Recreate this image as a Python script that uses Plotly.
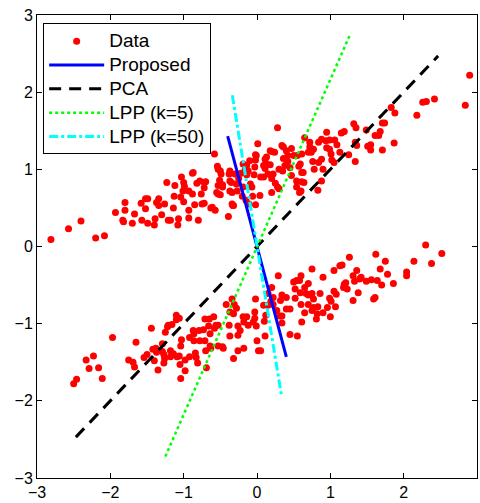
import plotly.graph_objects as go

# ---- data: upper cluster ----
upper_x = [-2.81, -2.57, -2.40, -2.20, -2.08, -1.93, -1.80, -1.80, -1.83, -1.82, -1.67, -1.70, -1.58, -1.52,
           -1.49, -1.52, -1.57, -1.49, -1.40, -1.39, -1.37, -1.34, -1.34, -1.26, -1.30, -1.23, -1.21, -1.18,
           -1.13, -1.12, -1.14, -1.08, -1.07, -1.04, -1.01, -1.00, -1.00, -1.03, -0.99, -0.93, -0.93, -0.93,
           -0.88, -0.88, -0.85, -0.82, -0.80, -0.78, -0.76, -0.72, -0.72, -0.70, -0.72, -0.75, -0.63, -0.61,
           -0.57, -0.58, -0.54, -0.53, -0.55, -0.50, -0.50, -0.47, -0.47, -0.39, -0.38, -0.37, -0.34, -0.34,
           -0.33, -0.30, -0.28, -0.27, -0.87, -0.53, -0.49, -0.51, -0.37, -0.35, -0.37, -0.53, -0.32, -0.19,
           -0.10, -0.01, 0.01, 0.13, 0.18, -0.19, 0.28, -0.02, -0.02, -0.14, -0.16, -0.03, 0.09, 0.13, 0.18,
           0.11, 0.15, 0.09, 0.05, 0.22, 0.20, 0.25, 0.28, 0.30, 0.20, 0.04, -0.07, -0.09, -0.06, -0.02,
           -0.11, -0.14, -0.04, 0.11, 0.20, 0.24, 0.34, 0.36, 0.40, 0.47, 0.42, 0.36, 0.42, 0.50, 0.55,
           0.61, 0.59, 0.57, 0.61, 0.63, 0.54, 0.61, 0.64, 0.54, 0.60, 0.58, 0.65, 0.72, 0.72, 0.70, 0.74,
           0.77, 0.84, 0.88, 0.95, 0.94, 0.95, 0.99, 1.06, 0.99, 1.01, 1.09, 1.13, 1.02, 1.05, 0.84, 0.88,
           0.90, 0.88, 0.83, 0.78, 0.76, 1.15, 1.19, 1.32, 1.35, 1.49, 1.34, 1.36, 1.25, 1.34, 1.51, 1.55,
           1.55, 1.61, 1.66, 1.68, 1.71, 1.74, 1.71, 1.83, 1.88, 1.87, 2.18, 2.26, 2.31, 2.42, 2.84, 2.90,
           -0.22, -0.25, -0.12, -0.20, -0.15, 0.30, 0.35, 0.38, 0.45, 0.47]
upper_y = [0.09, 0.23, 0.33, 0.11, 0.14, 0.44, 0.57, 0.47, 0.34, 0.32, 0.42, 0.30, 0.56, 0.62,
           0.62, 0.49, 0.34, 0.30, 0.28, 0.36, 0.57, 0.62, 0.53, 0.55, 0.41, 0.83, 0.34, 0.34,
           0.65, 0.79, 0.50, 0.28, 0.36, 0.64, 0.72, 0.83, 0.58, 0.90, 0.78, 0.72, 0.47, 0.37,
           0.95, 0.68, 0.54, 0.82, 0.34, 0.85, 0.68, 0.83, 0.76, 0.84, 0.56, 0.55, 0.50, 0.51,
           0.47, 1.20, 1.04, 0.79, 0.70, 0.98, 0.67, 0.77, 0.80, 0.39, 0.94, 0.85, 0.70, 0.55,
           0.53, 0.94, 0.81, 0.72, 0.96, 1.00, 0.94, 0.86, 0.98, 0.83, 0.72, 0.68, 0.53, 1.07,
           1.11, 1.18, 1.33, 1.16, 1.24, 0.77, 1.54, 1.19, 1.12, 1.05, 1.00, 1.03, 1.05, 1.07, 1.06,
           1.01, 0.94, 0.90, 0.90, 0.94, 0.88, 0.82, 0.77, 0.75, 0.70, 0.66, 0.77, 0.81, 0.65, 0.54,
           0.55, 0.93, 0.93, 1.13, 1.23, 1.22, 1.31, 1.29, 1.24, 1.27, 1.18, 1.14, 1.10, 1.18, 1.18,
           1.20, 1.07, 1.04, 0.96, 0.96, 0.85, 0.84, 0.83, 0.77, 0.72, 0.70, 1.41, 1.35, 1.29, 1.22, 1.22,
           1.26, 1.35, 1.39, 1.48, 1.37, 1.28, 1.38, 1.38, 1.26, 1.20, 1.32, 1.22, 1.12, 1.09, 1.09, 1.13,
           1.00, 0.85, 0.73, 1.00, 1.10, 1.47, 1.49, 1.59, 1.54, 1.51, 1.35, 1.31, 1.19, 1.10, 1.30, 1.32,
           1.25, 1.44, 1.44, 1.49, 1.60, 1.60, 1.25, 1.80, 1.73, 1.34, 1.70, 1.87, 1.88, 1.91, 1.83, 2.22,
           0.95, 0.88, 0.98, 0.65, 0.60, 1.00, 0.98, 1.05, 1.02, 0.92]

# ---- data: lower cluster ----
lower_x = [-2.50, -2.46, -2.33, -2.29, -2.23, -2.16, -2.11, -1.97, -1.75, -1.69, -1.67, -1.65, -1.54, -1.50,
           -1.44, -1.42, -1.40, -1.38, -1.37, -1.35, -1.29, -1.29, -1.27, -1.27, -1.26, -1.25, -1.22, -1.16,
           -1.18, -1.18, -1.14, -1.10, -1.06, -1.09, -1.06, -1.04, -1.03, -1.04, -1.05, -0.98, -0.98, -0.92,
           -0.92, -0.87, -0.86, -0.86, -0.84, -0.83, -0.81, -0.79, -0.78, -0.73, -0.71, -0.71, -0.69, -0.70,
           -0.65, -0.64, -0.64, -0.66, -0.63, -0.59, -0.58, -0.56, -0.53, -0.47, -0.46, -0.53, -0.42, -0.37,
           -0.38, -0.37, -0.32, -0.34, -0.31, -0.28, -0.26, -0.26, -0.26, -0.23, -0.18, -0.18, -0.14, -0.12,
           -0.05, -0.03, -0.03, -0.02, -0.01, 0.00, 0.05, 0.09, 0.10, 0.11, 0.12, 0.15, 0.20, 0.19, 0.22,
           0.27, 0.29, 0.31, 0.34, 0.32, 0.34, 0.40, 0.40, 0.34, 0.45, 0.45, 0.50, 0.52, 0.55, 0.58, 0.59,
           0.60, 0.60, 0.61, 0.65, 0.67, 0.65, 0.70, 0.70, 0.70, 0.75, 0.75, 0.77, 0.77, 0.81, 0.82, 0.83,
           0.86, 0.90, 0.90, 0.96, 0.99, 1.00, 1.01, 1.05, 1.05, 1.07, 1.08, 1.13, 1.16, 1.18, 1.19, 1.21,
           1.23, 1.26, 1.31, 1.31, 1.33, 1.36, 1.38, 1.40, 1.42, 1.49, 1.56, 1.59, 1.61, 1.62, 1.64, 1.68,
           1.70, 1.75, 1.78, 1.86, 2.04, 2.04, 2.14, 2.30, 2.38, 2.52,
           -0.32, -0.19, 0.15, 0.22, 0.02, 0.75, 0.54, 0.52, -1.21, -1.10]
lower_y = [-1.78, -1.72, -1.47, -1.58, -1.42, -1.57, -1.71, -1.18, -1.47, -1.50, -1.56, -1.24, -1.44, -1.40,
           -1.06, -1.33, -1.48, -1.32, -1.37, -1.60, -1.26, -1.36, -1.40, -1.51, -1.45, -1.11, -1.04, -1.01,
           -1.35, -1.43, -1.39, -0.89, -0.93, -1.43, -1.42, -1.29, -1.21, -1.71, -1.53, -1.61, -1.47, -1.18,
           -1.43, -1.09, -1.13, -1.22, -1.38, -1.44, -1.51, -1.09, -1.22, -1.08, -0.94, -1.22, -1.57, -1.35,
           -0.94, -1.13, -1.29, -1.03, -1.32, -0.91, -1.06, -1.02, -1.02, -1.30, -1.32, -1.29, -0.75, -0.85,
           -1.02, -1.16, -1.45, -0.68, -0.75, -0.80, -1.35, -1.03, -1.15, -1.09, -1.32, -0.98, -0.91, -1.02,
           -0.98, -0.93, -0.85, -0.68, -1.03, -1.22, -1.35, -0.76, -0.97, -1.16, -0.89, -0.61, -0.53, -0.71, -0.75,
           -0.83, -0.38, -0.90, -0.90, -0.70, -0.63, -0.66, -0.81, -0.99, -1.14, -0.81, -0.46, -0.67, -1.16, -0.44, -0.60,
           -0.38, -0.75, -0.98, -0.53, -0.61, -0.86, -0.48, -0.63, -0.75, -0.61, -0.83, -0.68, -0.79, -0.94, -0.87, -0.78,
           -0.61, -0.40, -0.86, -0.79, -0.67, -0.91, -0.71, -0.58, -0.31, -0.78, -0.62, -0.25, -0.24, -0.53, -0.49, -0.47,
           -0.55, -0.14, -0.70, -0.38, -0.45, -0.31, -0.60, -0.42, -0.40, -0.45, -0.43, -0.68, -0.66, -0.10, -0.44, -0.29,
           -0.50, -0.19, -0.36, -0.48, -0.33, -0.38, -0.19, 0.02, -0.22, -0.09,
           -0.87, -0.91, -0.76, -0.66, -1.35, -0.29, -0.44, -0.55, -1.02, -0.95]

# ---- projection directions (line endpoints) ----
proposed_x = [-0.40, 0.40]
proposed_y = [1.43, -1.43]
pca_x = [-2.47, 2.47]
pca_y = [-2.47, 2.47]
lpp5_x = [-1.25, 1.27]
lpp5_y = [-2.72, 2.75]
lpp50_x = [-0.337, 0.337]
lpp50_y = [1.96, -1.95]

series_names = ["Data", "Proposed", "PCA", "LPP (k=5)", "LPP (k=50)"]
tick_vals = [-3, -2, -1, 0, 1, 2, 3]

FONT = "Liberation Sans, Arial, Helvetica, sans-serif"


def lg(name):
    # legend label, drawn slightly larger than the row spacing font
    return "<span style='font-size:19px'>" + name + "</span>"


fig = go.Figure()
fig.add_trace(go.Scatter(x=upper_x + lower_x, y=upper_y + lower_y, mode="markers", name=lg(series_names[0]),
                         marker=dict(color="#ff0000", size=7)))
fig.add_trace(go.Scatter(x=proposed_x, y=proposed_y, mode="lines", name=lg(series_names[1]),
                         line=dict(color="#0000ff", width=3)))
fig.add_trace(go.Scatter(x=pca_x, y=pca_y, mode="lines", name=lg(series_names[2]),
                         line=dict(color="#000000", width=3, dash="12px,8px")))
fig.add_trace(go.Scatter(x=lpp5_x, y=lpp5_y, mode="lines", name=lg(series_names[3]),
                         line=dict(color="#00ff00", width=2.5, dash="dot")))
fig.add_trace(go.Scatter(x=lpp50_x, y=lpp50_y, mode="lines", name=lg(series_names[4]),
                         line=dict(color="#00ffff", width=3, dash="dashdot")))

axis_common = dict(range=[-3, 3], tickvals=tick_vals, ticks="inside", ticklen=5, tickcolor="black",
                   showline=True, linecolor="black", linewidth=1, mirror="ticks", automargin=False,
                   showgrid=False, zeroline=False, tickfont=dict(family=FONT, size=16, color="black"))

fig.update_layout(
    width=480, height=503, autosize=False,
    margin=dict(l=37, r=3, t=15, b=25),
    plot_bgcolor="white", paper_bgcolor="white",
    xaxis=dict(**axis_common),
    yaxis=dict(**axis_common),
    showlegend=True,
    legend=dict(x=0.014, y=0.982, xanchor="left", yanchor="top",
                bgcolor="white", bordercolor="black", borderwidth=1,
                font=dict(family=FONT, size=16, color="black"),
                itemwidth=55, tracegroupgap=0),
)

fig.write_html("out.html", config={"displayModeBar": False},
               post_script="document.body.style.margin='0';document.body.style.overflow='hidden';")
